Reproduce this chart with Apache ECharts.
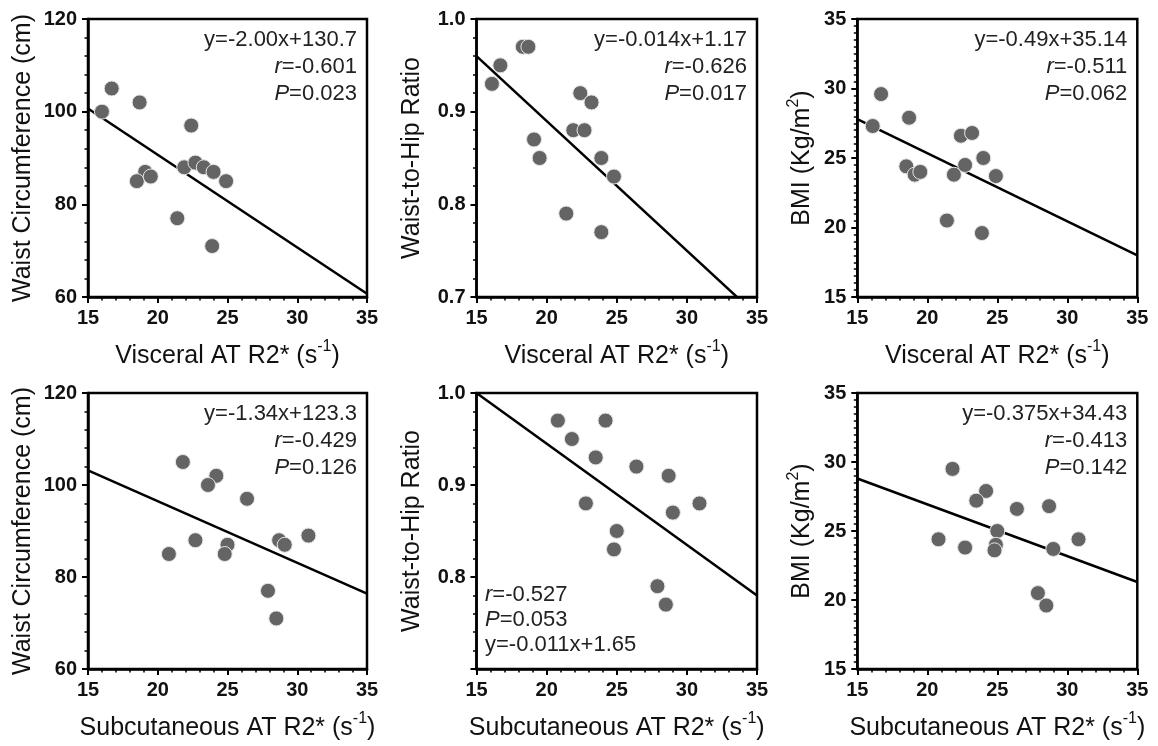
<!DOCTYPE html>
<html><head><meta charset="utf-8">
<script src="https://cdn.jsdelivr.net/npm/echarts@6/dist/echarts.min.js"></script>
<style>html,body{margin:0;padding:0;background:#fff}#c{width:1158px;height:746px}</style>
</head><body><div id="c"></div>
<script>
// ---------- data ----------
const visWaistX = [16.0,16.7,18.7,22.4,19.1,18.5,19.5,21.9,22.7,23.3,24.0,24.9,21.4,23.9];
const visWaistY = [100,105,102,97,87,85,86,88,89,88,87,85,77,71];
const visWhrX = [18.3,18.7,16.7,16.1,22.4,23.2,21.9,22.7,19.1,19.5,23.9,24.8,21.4,23.9];
const visWhrY = [0.97,0.97,0.95,0.93,0.92,0.91,0.88,0.88,0.87,0.85,0.85,0.83,0.79,0.77];
const visBmiX = [16.1,16.7,18.7,18.5,19.1,19.5,21.9,22.4,23.2,22.7,24.0,24.9,21.4,23.9];
const visBmiY = [27.3,29.6,27.9,24.4,23.8,24.0,23.8,26.6,26.8,24.5,25.0,23.7,20.5,19.6];
const subWaistX = [21.8,24.2,23.6,26.4,20.8,22.7,25.0,24.8,28.7,29.1,30.8,27.9,28.5];
const subWaistY = [105,102,100,97,85,88,87,85,88,87,89,77,71];
const subWhrX = [20.8,24.2,21.8,23.5,26.4,28.7,22.8,30.9,29.0,25.0,24.8,27.9,28.5];
const subWhrY = [0.97,0.97,0.95,0.93,0.92,0.91,0.88,0.88,0.87,0.85,0.83,0.79,0.77];
const subBmiX = [21.8,24.2,23.5,26.4,28.7,20.8,22.7,25.0,24.9,24.8,29.0,30.8,27.9,28.5];
const subBmiY = [29.5,27.9,27.2,26.6,26.8,24.4,23.8,25.0,24.0,23.6,23.7,24.4,20.5,19.6];

// regression lines (slope, intercept) drawn over x range
const fitSlope = [-2.00,-0.014,-0.49,-1.34,-0.011,-0.375];
const fitIntercept = [130.7,1.17,35.14,123.3,1.165,34.43];

const eqText = ['y=-2.00x+130.7','y=-0.014x+1.17','y=-0.49x+35.14','y=-1.34x+123.3','y=-0.011x+1.65','y=-0.375x+34.43'];
const rText = ['-0.601','-0.626','-0.511','-0.429','-0.527','-0.413'];
const pText = ['0.023','0.017','0.062','0.126','0.053','0.142'];

const xRange = [15,35], xInterval = 5;
const waistRange = [60,120], waistInterval = 20;
const whrRange = [0.7,1.0], whrInterval = 0.1;
const bmiRange = [15,35], bmiInterval = 5;

const xNames = ['Visceral AT R2* (s{sup|-1})','Subcutaneous AT R2* (s{sup|-1})'];
const yNames = ['Waist Circumference (cm)','Waist-to-Hip Ratio','BMI (Kg/m{sup|2})'];

// ---------- layout ----------
const FONT = 'Liberation Sans, Arial, sans-serif';
const colLeft = [88,476.5,857.3], colWidth = [279,280.5,280];
const rowTop = [19,393], plotH = 278;
const yNameGap = [45,47,38];

const panels = [
  {x:visWaistX,y:visWaistY,r:0,c:0,yr:waistRange,yi:waistInterval,ym:5},
  {x:visWhrX,y:visWhrY,r:0,c:1,yr:whrRange,yi:whrInterval,ym:5},
  {x:visBmiX,y:visBmiY,r:0,c:2,yr:bmiRange,yi:bmiInterval,ym:10},
  {x:subWaistX,y:subWaistY,r:1,c:0,yr:waistRange,yi:waistInterval,ym:5},
  {x:subWhrX,y:subWhrY,r:1,c:1,yr:whrRange,yi:whrInterval,ym:5,hideMin:true,annBottom:true},
  {x:subBmiX,y:subBmiY,r:1,c:2,yr:bmiRange,yi:bmiInterval,ym:10}
];

const grid=[], xAxis=[], yAxis=[], series=[], graphic=[];
const supRich = {sup:{fontSize:16,fontFamily:FONT,color:'#111',verticalAlign:'top'}};
const annRich = {i:{fontStyle:'italic',fontSize:22,fontFamily:FONT,fill:'#222'}};
const nameStyle = {fontSize:25,fontFamily:FONT,color:'#111',lineHeight:34,rich:supRich};

panels.forEach((p,i)=>{
  const left=colLeft[p.c], top=rowTop[p.r], w=colWidth[p.c];
  grid.push({left:left,top:top,width:w,height:plotH,show:true,borderColor:'#000',borderWidth:2.5,containLabel:false});
  xAxis.push({
    gridIndex:i,type:'value',min:xRange[0],max:xRange[1],interval:xInterval,
    name:xNames[p.r],nameLocation:'middle',nameGap:42,
    nameTextStyle:nameStyle,
    axisLine:{show:true,onZero:false,lineStyle:{color:'#000',width:2.5}},
    axisTick:{show:true,length:6,lineStyle:{color:'#000',width:2}},
    minorTick:{show:true,splitNumber:5,length:3.5,lineStyle:{color:'#000',width:1.5}},
    axisLabel:{fontSize:20,fontWeight:'bold',fontFamily:FONT,color:'#111',margin:11},
    splitLine:{show:false}
  });
  yAxis.push({
    gridIndex:i,type:'value',min:p.yr[0],max:p.yr[1],interval:p.yi,
    name:yNames[p.c],nameLocation:'middle',nameRotate:90,nameGap:yNameGap[p.c],
    nameTextStyle:nameStyle,
    axisLine:{show:true,onZero:false,lineStyle:{color:'#000',width:2.5}},
    axisTick:{show:true,length:6,lineStyle:{color:'#000',width:2}},
    minorTick:{show:true,splitNumber:p.ym,length:3.5,lineStyle:{color:'#000',width:1.5}},
    axisLabel:{fontSize:20,fontWeight:'bold',fontFamily:FONT,color:'#111',margin:11,
      showMinLabel:!p.hideMin,
      formatter:(v)=> p.c===1 ? v.toFixed(1) : String(v)},
    splitLine:{show:false}
  });
  series.push({
    type:'line',xAxisIndex:i,yAxisIndex:i,silent:true,showSymbol:false,clip:true,z:2,
    data:xRange.map(x=>[x,fitIntercept[i]+fitSlope[i]*x]),
    lineStyle:{color:'#000',width:2.5}
  });
  series.push({
    type:'scatter',xAxisIndex:i,yAxisIndex:i,z:3,symbolSize:15,
    data:p.x.map((x,k)=>[x,p.y[k]]),
    itemStyle:{color:'#646464',borderColor:'#e6e6e6',borderWidth:1,opacity:1}
  });
  const lines = [eqText[i],'{i|r}='+rText[i],'{i|P}='+pText[i]];
  if(p.annBottom){
    const order=[lines[1],lines[2],lines[0]];
    const offs=[76,51,26];
    order.forEach((t,k)=>graphic.push({type:'text',x:left+8.5,y:top+plotH-offs[k],z:10,
      style:{text:t,font:'22px '+FONT,fill:'#222',align:'left',verticalAlign:'middle',rich:annRich}}));
  } else {
    const offs=[21,48,75];
    lines.forEach((t,k)=>graphic.push({type:'text',x:left+w-10,y:top+offs[k],z:10,
      style:{text:t,font:'22px '+FONT,fill:'#222',align:'right',verticalAlign:'middle',rich:annRich}}));
  }
});

const chart = echarts.init(document.getElementById('c'),null,{renderer:'canvas'});
chart.setOption({animation:false,backgroundColor:'#fff',grid,xAxis,yAxis,series,graphic});
</script>
</body></html>
